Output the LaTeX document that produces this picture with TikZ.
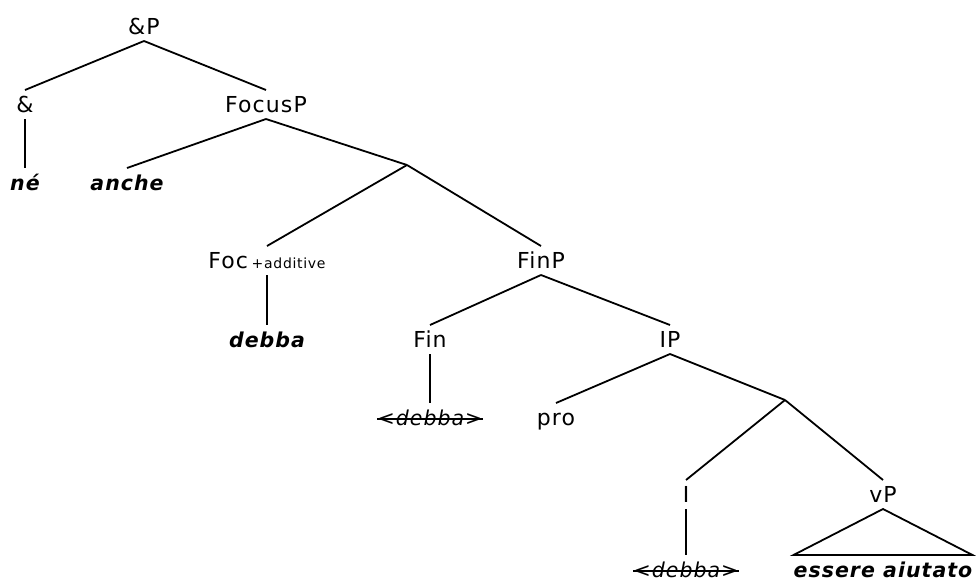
\documentclass[tikz,border=0pt]{standalone}
\usepackage{fontspec}
\setmainfont{DejaVu Sans}[LetterSpace=5]
\begin{document}
\begin{tikzpicture}[x=1pt,y=-1pt,
  lab/.style={font=\fontsize{22}{25}\selectfont, inner sep=0pt, outer ysep=7pt,
    text height=15pt, text depth=0pt, anchor=base},
  leaf/.style={lab, font=\fontsize{20.5}{24}\selectfont\bfseries\itshape},
  trace/.style={lab, font=\fontsize{20.5}{24}\selectfont\itshape},
  edge/.style={line width=1.8pt, black},
  strike/.style={line width=1.5pt}]
\useasboundingbox (0,0) rectangle (976,582);
% nodes
\node[lab] (aP) at (144,34) {\&P};
\node[lab] (amp) at (25,112) {\&};
\node[lab] (focP) at (266,112) {FocusP};
\node[leaf] (ne) at (25,190) {né};
\node[leaf] (anche) at (127,190) {anche};
\coordinate (b1) at (407,165);
\node[lab] (foc) at (267,268) {Foc\,{\fontsize{14}{16}\selectfont +additive}};
\node[lab] (finP) at (541,268) {FinP};
\node[leaf] (debba1) at (267,347) {debba};
\node[lab] (fin) at (430,347) {Fin};
\node[lab] (ip) at (670,347) {IP};
\node[trace] (debba2) at (430,425) {<debba>};
\node[lab] (pro) at (556,425) {pro};
\coordinate (b2) at (785,400);
\node[lab] (i) at (686,502) {I};
\node[lab] (vp) at (883,502) {vP};
\node[trace] (debba3) at (686,577) {<debba>};
\node[leaf] (ess) at (883,577) {essere aiutato};
% edges
\draw[edge] (aP.south) -- (amp.north);
\draw[edge] (aP.south) -- (focP.north);
\draw[edge] (amp.south) -- (ne.north);
\draw[edge] (focP.south) -- (anche.north);
\draw[edge] (focP.south) -- (b1);
\draw[edge] (b1) -- (foc.north);
\draw[edge] (b1) -- (finP.north);
\draw[edge] (foc.south) -- (debba1.north);
\draw[edge] (finP.south) -- (fin.north);
\draw[edge] (finP.south) -- (ip.north);
\draw[edge] (fin.south) -- (debba2.north);
\draw[edge] (ip.south) -- (pro.north);
\draw[edge] (ip.south) -- (b2);
\draw[edge] (b2) -- (i.north);
\draw[edge] (b2) -- (vp.north);
\draw[edge] (i.south) -- (debba3.north);
\draw[edge, line join=miter] (vp.south) -- (ess.north west) -- (ess.north east) -- cycle;
% strike-through
\draw[strike] ([yshift=6pt]debba2.base west) -- ([yshift=6pt]debba2.base east);
\draw[strike] ([yshift=6pt]debba3.base west) -- ([yshift=6pt]debba3.base east);
\end{tikzpicture}
\end{document}
